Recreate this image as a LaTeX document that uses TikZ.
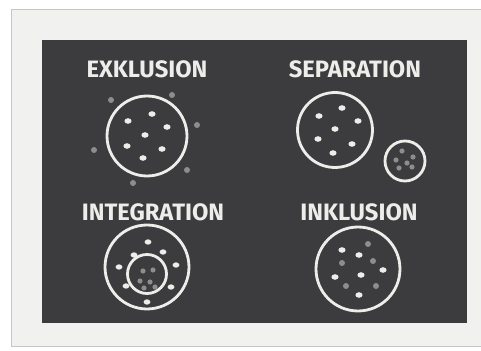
\documentclass[tikz,border=0pt]{standalone}
\usepackage{fontspec}
\setmainfont{Fira Sans}
\usepackage{tikz}

\definecolor{board}{HTML}{3C3B3E}
\definecolor{chalk}{HTML}{EDEDEA}
\definecolor{dimchalk}{HTML}{8E8C8C}
\definecolor{paper}{HTML}{F1F1EF}

\begin{document}
\begin{tikzpicture}[x=0.02cm, y=-0.02cm,
    title/.style={text=chalk, font=\fontsize{13.5}{13.5}\selectfont\bfseries},
    ring/.style={circle, draw=chalk, line width=1.6pt, inner sep=0pt},
    wdot/.style={fill=chalk},
    gdot/.style={fill=dimchalk}]
    \useasboundingbox (0,0) rectangle (481,351);
    \fill[white] (0,0) rectangle (481,351);
    \draw[gray!45, fill=paper] (11,9) rectangle (481,346);
    \fill[board] (42,40) rectangle (467,323);

    \node (exkl) [title] at (147,69) {EXKLUSION};
    \node (sep) [title] at (355,69) {SEPARATION};
    \node (integ) [title] at (153,212) {INTEGRATION};
    \node (inkl) [title] at (359,212) {INKLUSION};

    \node (exring) [ring, minimum size=1.6cm] at (147,136) {};
    \foreach \p in {(128,121),(152,114),(167,127),(145,135),(127,146),(162,149),(143,158)}
        \fill[wdot] \p ellipse (3.6 and 2.8);
    \foreach \p in {(111,100),(172,95),(197,125),(94,150),(187,170),(133,183)}
        \fill[gdot] \p circle (3);

    \node (sepbig) [ring, minimum size=1.5cm] at (335,130) {};
    \foreach \p in {(319,116),(342,108),(358,121),(335,129),(318,139),(352,144),(333,153)}
        \fill[wdot] \p ellipse (3.6 and 2.8);
    \node (sepsmall) [ring, minimum size=0.8cm] at (405,161) {};
    \foreach \p in {(402,151),(413,157),(396,160),(407,163),(399,168),(412,167)}
        \fill[gdot] \p circle (2.6);

    \node (intout) [ring, minimum size=1.68cm] at (147,267) {};
    \node (intin) [ring, minimum size=0.78cm] at (147,274) {};
    \foreach \p in {(148,242),(134,255),(163,252),(119,267),(176,265),(126,286),(171,287),(147,302)}
        \fill[wdot] \p ellipse (3.4 and 2.7);
    \foreach \p in {(143,271),(153,270),(140,281),(150,282),(144,288),(155,287)}
        \fill[gdot] \p circle (2.6);

    \node (inring) [ring, minimum size=1.68cm] at (358,269) {};
    \foreach \p in {(342,250),(359,255),(335,277),(361,275),(383,270),(359,295)}
        \fill[wdot] \p ellipse (3.6 and 2.8);
    \foreach \p in {(368,244),(342,263),(373,261),(346,286),(376,286)}
        \fill[gdot] \p circle (3);
\end{tikzpicture}
\end{document}
